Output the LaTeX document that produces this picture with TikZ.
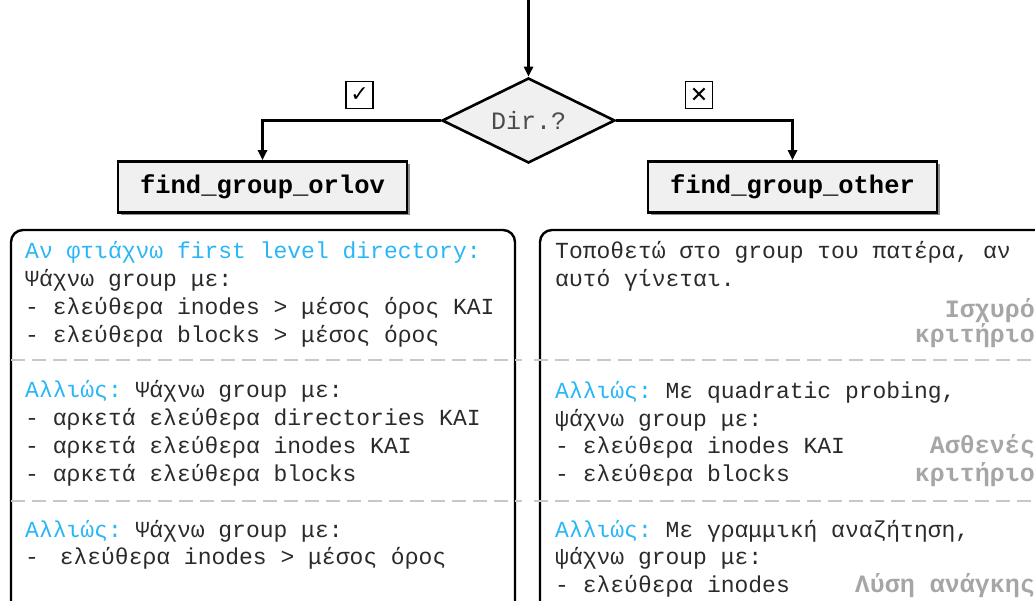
\documentclass[tikz,border=0pt]{standalone}
\usepackage{fontspec}
\setmainfont{Liberation Mono}
\newfontfamily\symfont{DejaVu Sans}
\usetikzlibrary{arrows.meta,shapes.geometric,shadows}

\definecolor{ink}{HTML}{2A2A2A}
\definecolor{sky}{HTML}{29B6F6}
\definecolor{note}{HTML}{A6A6A6}
\definecolor{sepline}{HTML}{C8C8C8}
\definecolor{boxfill}{HTML}{F0F0F0}

\tikzset{
  conn/.style={line width=2.6pt, -{Triangle[length=10pt,width=9pt]}},
  decision/.style={diamond, aspect=2, draw, line width=2.6pt, fill=boxfill,
    minimum width=173pt, minimum height=85pt, inner sep=0pt,
    font=\fontsize{25}{25}\selectfont, text=black!70},
  funcbox/.style={draw, line width=2.6pt, fill=boxfill,
    minimum width=289pt, minimum height=51pt, inner sep=0pt,
    font=\fontsize{25.5}{25.5}\selectfont\bfseries,
    drop shadow={shadow xshift=3pt, shadow yshift=-3pt, fill=black!45, opacity=1}},
  tickbox/.style={draw, line width=1.2pt, minimum size=27pt, inner sep=0pt,
    font=\symfont\fontsize{22}{22}\selectfont},
  panel/.style={line width=2.4pt, rounded corners=12pt},
  sepdash/.style={line width=2.4pt, sepline, dash pattern=on 14pt off 7pt},
  txt/.style={anchor=base west, inner sep=0pt, text=ink,
    font=\fontsize{23}{27}\selectfont\frenchspacing},
  tag/.style={anchor=base east, inner sep=0pt, text=note,
    font=\fontsize{25}{27}\selectfont\bfseries\frenchspacing},
}
\newcommand\hl[1]{{\color{sky}#1}}

\begin{document}
\begin{tikzpicture}[x=1pt,y=-1pt]
\useasboundingbox (0,0) rectangle (1035,601);
\clip (0,0) rectangle (1035,601);

% decision and the two branches
\coordinate (entry) at (528.5,0);
\node[decision] (dec) at (528.5,120.5) {Dir.?};
\node[funcbox] (orlov) at (262.5,187) {find\_group\_orlov};
\node[funcbox] (other) at (792.5,187) {find\_group\_other};

\draw[conn] (entry) -- (dec.north);
\draw[conn] (dec.west) -| (orlov.north);
\draw[conn] (dec.east) -| (other.north);

\node[tickbox] (yes) at (359.5,95) {✓};
\node[tickbox] (no)  at (699,95)  {✕};

% description panels
\draw[panel] (11,230) rectangle (515,650);
\draw[panel] (540,230) rectangle (1070,650);
\draw[sepdash] (11,360) -- (522,360);
\draw[sepdash] (11,501) -- (522,501);
\draw[sepdash] (534,360) -- (1035,360);
\draw[sepdash] (534,501) -- (1035,501);

% left panel: find_group_orlov
\node[txt] (l1) at (25,259) {\hl{Αν φτιάχνω first level directory:}};
\node[txt] (l2) at (25,287) {Ψάχνω group με:};
\node[txt] (l3) at (25,314) {- ελεύθερα inodes > μέσος όρος ΚΑΙ};
\node[txt] (l4) at (25,342) {- ελεύθερα blocks > μέσος όρος};
\node[txt] (l5) at (25,397) {\hl{Αλλιώς:} Ψάχνω group με:};
\node[txt] (l6) at (25,425) {- αρκετά ελεύθερα directories ΚΑΙ};
\node[txt] (l7) at (25,453) {- αρκετά ελεύθερα inodes ΚΑΙ};
\node[txt] (l8) at (25,481) {- αρκετά ελεύθερα blocks};
\node[txt] (l9) at (25,537) {\hl{Αλλιώς:} Ψάχνω group με:};
\node[txt] (l10) at (25,564) {- \hspace{7pt}ελεύθερα inodes > μέσος όρος};

% right panel: find_group_other
\node[txt] (r1) at (555,259) {Τοποθετώ στο group του πατέρα, αν};
\node[txt] (r2) at (555,287) {αυτό γίνεται.};
\node[txt] (r3) at (555,398) {\hl{Αλλιώς:} Με quadratic probing,};
\node[txt] (r4) at (555,426) {ψάχνω group με:};
\node[txt] (r5) at (555,453) {- ελεύθερα inodes ΚΑΙ};
\node[txt] (r6) at (555,481) {- ελεύθερα blocks};
\node[txt] (r7) at (555,537) {\hl{Αλλιώς:} Με γραμμική αναζήτηση,};
\node[txt] (r8) at (555,564) {ψάχνω group με:};
\node[txt] (r9) at (555,592) {- ελεύθερα inodes};

\node[tag] (t1) at (1035,317) {Ισχυρό};
\node[tag] (t2) at (1035,342) {κριτήριο};
\node[tag] (t3) at (1035,453) {Ασθενές};
\node[tag] (t4) at (1035,481) {κριτήριο};
\node[tag] (t5) at (1035,592) {Λύση ανάγκης};
\end{tikzpicture}
\end{document}
